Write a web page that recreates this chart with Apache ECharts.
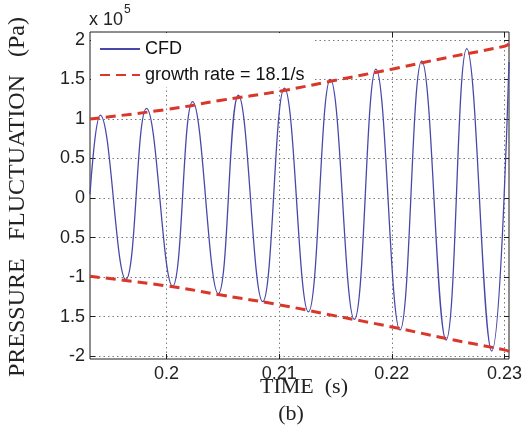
<!DOCTYPE html>
<html>
<head>
<meta charset="utf-8">
<script src="https://cdn.jsdelivr.net/npm/echarts@6/dist/echarts.min.js"></script>
<style>
  html, body { margin: 0; padding: 0; background: #ffffff; }
  #chart { width: 526px; height: 433px; }
</style>
</head>
<body>
<div id="chart"></div>
<script>
// ---- data (pressure in units of 10^5 Pa) ----
const timeTicks = [0.2, 0.21, 0.22, 0.23];
const yTickValues = [-2, -1.5, -1, -0.5, 0, 0.5, 1, 1.5, 2];
const yTickLabels = ['-2', '1.5', '-1', '0.5', '0', '0.5', '1', '1.5', '2'];

// CFD pressure signal: start, alternating peaks / troughs, end
const cfdTime  = [0.19320, 0.19411, 0.19638, 0.19822, 0.20053, 0.20231, 0.20459, 0.20637, 0.20853, 0.21046,
                  0.21259, 0.21454, 0.21667, 0.21859, 0.22072, 0.22265, 0.22481, 0.22665, 0.22887, 0.23040];
const cfdValue = [0.05, 1.05, -1.03, 1.135, -1.115, 1.22, -1.21, 1.30, -1.31, 1.39,
                  -1.44, 1.50, -1.535, 1.63, -1.67, 1.735, -1.795, 1.89, -1.935, 1.72];

// growth-rate envelopes
const envTime  = [0.1932, 0.2, 0.205, 0.21, 0.215, 0.22, 0.225, 0.23, 0.2304];
const envUpper = [1.0, 1.12, 1.24, 1.35, 1.49, 1.63, 1.78, 1.92, 1.95];
const envLower = [-0.99, -1.11, -1.23, -1.35, -1.49, -1.63, -1.78, -1.92, -1.94];

const seriesNames = ['CFD', 'growth rate = 18.1/s'];
const yTitle = 'PRESSURE   FLUCTUATION   (Pa)';
const xTitle = 'TIME  (s)';
const panelLabel = '(b)';

// ---- chart ----
const chart = echarts.init(document.getElementById('chart'), null, { renderer: 'canvas' });
const sans = 'Liberation Sans, Arial, sans-serif';
const serif = 'Liberation Serif, Times New Roman, serif';
const frame = '#1e1e1e';
const X_MIN = 0.1932, X_MAX = 0.2304, Y_MIN = -2.035, Y_MAX = 2.1;

const yLabelFmt = function (v) {
  const i = yTickValues.findIndex(t => Math.abs(t - v) < 1e-9);
  return i >= 0 ? yTickLabels[i] : '';
};
const xLabelFmt = function (v) { return String(+(+v).toFixed(3)); };

const gridLine = { show: true, lineStyle: { color: '#7a7a7a', width: 1, type: [1.5, 3] } };

chart.setOption({
  animation: false,
  backgroundColor: '#ffffff',
  grid: { left: 90, right: 17, top: 32, bottom: 74, show: true, borderColor: frame, borderWidth: 1, backgroundColor: 'transparent' },
  legend: {
    data: seriesNames,
    orient: 'vertical',
    left: 91, top: 33,
    backgroundColor: '#ffffff',
    padding: [7, 9, 3, 8],
    itemWidth: 40, itemHeight: 14, itemGap: 8,
    itemStyle: { opacity: 0, borderWidth: 0 },
    textStyle: { fontSize: 18, fontFamily: sans, color: '#111' }
  },
  xAxis: [{
    type: 'value', min: X_MIN, max: X_MAX,
    axisLine: { show: false, onZero: false },
    axisTick: { show: true, inside: true, length: 5, customValues: timeTicks, lineStyle: { color: frame } },
    axisLabel: { customValues: timeTicks, formatter: xLabelFmt, fontSize: 18, fontFamily: sans, color: '#222', margin: 6 },
    splitLine: gridLine
  }, {
    type: 'value', position: 'top', min: X_MIN, max: X_MAX,
    axisLine: { show: false, onZero: false },
    axisTick: { show: true, inside: true, length: 5, customValues: timeTicks, lineStyle: { color: frame } },
    axisLabel: { show: false },
    splitLine: { show: false }
  }],
  yAxis: [{
    type: 'value', min: Y_MIN, max: Y_MAX,
    axisLine: { show: false, onZero: false },
    axisTick: { show: true, inside: true, length: 5, customValues: yTickValues, lineStyle: { color: frame } },
    axisLabel: { customValues: yTickValues, formatter: yLabelFmt, fontSize: 18, fontFamily: sans, color: '#222', margin: 5 },
    splitLine: gridLine
  }, {
    type: 'value', position: 'right', min: Y_MIN, max: Y_MAX,
    axisLine: { show: false, onZero: false },
    axisTick: { show: true, inside: true, length: 5, customValues: yTickValues, lineStyle: { color: frame } },
    axisLabel: { show: false },
    splitLine: { show: false }
  }],
  series: [{
    name: seriesNames[0], type: 'line', symbol: 'none', smooth: 0.43,
    data: cfdTime.map((t, i) => [t, cfdValue[i]]),
    lineStyle: { color: '#4848aa', width: 1.3 }, itemStyle: { color: '#4848aa' }, z: 3
  }, {
    name: seriesNames[1], type: 'line', symbol: 'none', smooth: true,
    data: envTime.map((t, i) => [t, envUpper[i]]),
    lineStyle: { color: '#d9372a', width: 3, type: [10, 6] }, itemStyle: { color: '#d9372a' }, z: 4
  }, {
    name: seriesNames[1], type: 'line', symbol: 'none', smooth: true,
    data: envTime.map((t, i) => [t, envLower[i]]),
    lineStyle: { color: '#d9372a', width: 3, type: [10, 6] }, itemStyle: { color: '#d9372a' }, z: 4
  }],
  graphic: [
    { type: 'text', left: 89, top: 11, style: { text: 'x 10', fontSize: 18, fontFamily: sans, fill: '#222' } },
    { type: 'text', left: 124, top: 4, style: { text: '5', fontSize: 12, fontFamily: sans, fill: '#222' } },
    { type: 'text', x: 18, y: 197, rotation: Math.PI / 2,
      style: { text: yTitle, fontSize: 24, fontFamily: serif, fill: '#222', align: 'center', verticalAlign: 'middle' } },
    { type: 'text', x: 304, y: 387,
      style: { text: xTitle, fontSize: 22, fontFamily: serif, fill: '#222', align: 'center', verticalAlign: 'middle' } },
    { type: 'text', x: 291, y: 414,
      style: { text: panelLabel, fontSize: 22, fontFamily: serif, fill: '#222', align: 'center', verticalAlign: 'middle' } }
  ]
});
</script>
</body>
</html>
